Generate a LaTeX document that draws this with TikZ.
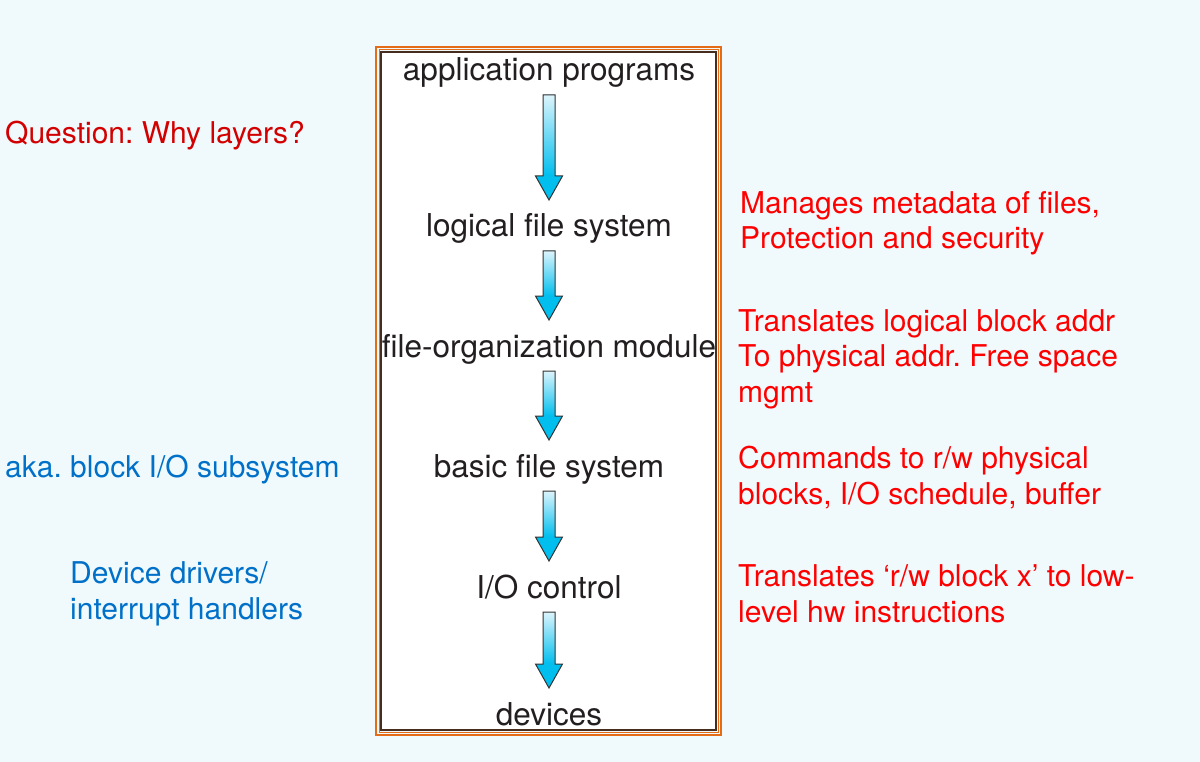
\documentclass[tikz,border=0pt]{standalone}
\usepackage{fontspec}
\setmainfont{TeX Gyre Heros}
\usetikzlibrary{calc}
\frenchspacing

\definecolor{pagebg}{RGB}{240,250,253}
\definecolor{frameorange}{RGB}{228,108,22}
\definecolor{framedark}{RGB}{70,45,30}
\definecolor{layertext}{RGB}{35,31,32}
\definecolor{noteRed}{RGB}{255,0,0}
\definecolor{askRed}{RGB}{210,0,0}
\definecolor{noteBlue}{RGB}{0,112,200}
\definecolor{arrtop}{RGB}{220,244,252}
\definecolor{arrbot}{RGB}{0,190,238}

% block arrow from one layer to the next
\newcommand{\layerarrow}[2]{%
  \path (#1.base) ++(0,14) coordinate (t) (#2.base) ++(0,-37) coordinate (p);
  \shade[top color=arrtop,bottom color=arrbot] ($(t)+(-6,0)$) rectangle ($(p)+(6,-24)$);
  \fill[arrbot] ($(p)+(-13.5,-24)$) -- ($(p)+(13.5,-24)$) -- (p) -- cycle;
  \draw[arr] ($(t)+(-6,0)$) -- ($(t)+(6,0)$) -- ($(p)+(6,-24)$) -- ($(p)+(13.5,-24)$)
    -- (p) -- ($(p)+(-13.5,-24)$) -- ($(p)+(-6,-24)$) -- cycle;
}

\begin{document}
\begin{tikzpicture}[x=1pt,y=-1pt,
  layer/.style={inner sep=0pt,anchor=base,text=layertext,font=\fontsize{31.5}{36}\selectfont},
  note/.style={inner sep=0pt,anchor=base west,align=left,text=noteRed,font=\fontsize{30}{35.5}\selectfont},
  aside/.style={note,text=noteBlue},
  arr/.style={draw=black!80,line width=1pt,line join=miter}]
\fill[pagebg] (0,0) rectangle (1200,762);
\useasboundingbox (0,0) rectangle (1200,762);
% the framed stack
\fill[white] (381,52) rectangle (716,730);
\draw[frameorange,line width=2] (376,47) rectangle (721,735);
\draw[frameorange,line width=1] (379,50) rectangle (718.5,732.5);
\draw[framedark,line width=1.5] (381,52) rectangle (716,730);
\node[layer] (app) at (549,81) {application programs};
\node[layer] (lfs) at (549,237) {logical file system};
\node[layer] (fom) at (549,357) {file-organization module};
\node[layer] (bfs) at (549,477) {basic file system};
\node[layer] (ioc) at (549,598) {I/O control};
\node[layer] (dev) at (549,725) {devices};
\layerarrow{app}{lfs}
\layerarrow{lfs}{fom}
\layerarrow{fom}{bfs}
\layerarrow{bfs}{ioc}
\layerarrow{ioc}{dev}
% left side (base = last line)
\node[note,text=askRed] (why) at (5,144) {Question: Why layers?};
\node[aside] (aka) at (5,477) {aka. block I/O subsystem};
\node[aside] (drv) at (70,619) {Device drivers/\\interrupt handlers};
% right side
\node[note] (n1) at (740,249) {Manages metadata of files,\\Protection and security};
\node[note] (n2) at (738,402) {Translates logical block addr\\To physical addr. Free space\\mgmt};
\node[note] (n3) at (738,504) {Commands to r/w physical\\blocks, I/O schedule, buffer};
\node[note] (n4) at (738,622) {Translates ‘r/w block x’ to low-\\level hw instructions};
\end{tikzpicture}
\end{document}
